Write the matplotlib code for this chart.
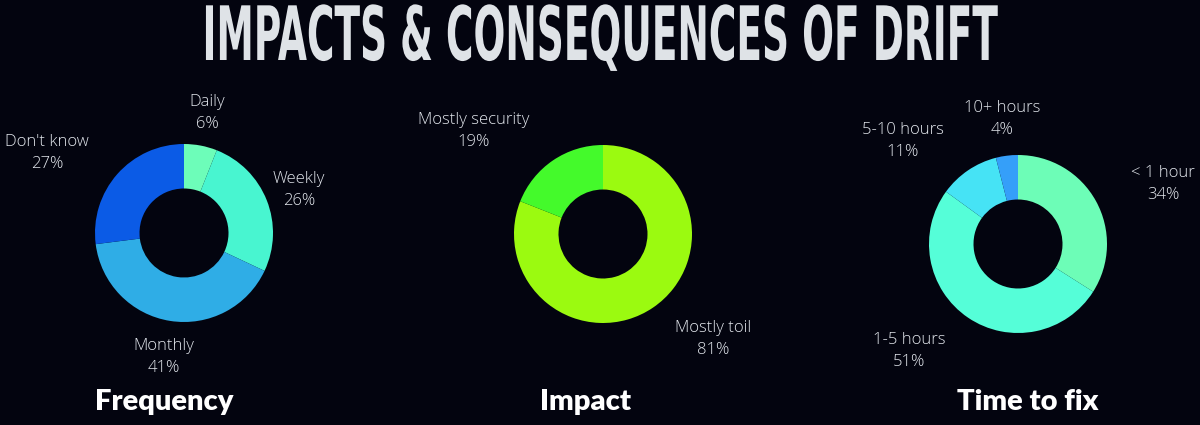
import matplotlib
matplotlib.use("Agg")
import matplotlib.pyplot as plt
from matplotlib.patheffects import AbstractPathEffect
from matplotlib.transforms import Affine2D

# data
freq_labels = ["Daily", "Weekly", "Monthly", "Don't know"]
freq_values = [6, 26, 41, 27]
freq_colors = ["#6dfdb9", "#48f5d0", "#2fade6", "#0b5be6"]

impact_labels = ["Mostly toil", "Mostly security"]
impact_values = [81, 19]
impact_colors = ["#9bfa10", "#44fa2b"]

fix_labels = ["< 1 hour", "1-5 hours", "5-10 hours", "10+ hours"]
fix_values = [34, 51, 11, 4]
fix_colors = ["#6dfdb7", "#55fed8", "#46e3f5", "#359ff9"]

titles = ["Frequency", "Impact", "Time to fix"]

W, H = 1200, 425
BG = "#03040f"
TXT = "#e2e6ec"


class Squeeze(AbstractPathEffect):
    # rescale the text glyphs around an anchor point (display coords)
    def __init__(self, sx, sy, cx, cy):
        super().__init__()
        self.sx, self.sy = sx, sy
        self.cx, self.cy = cx, cy

    def draw_path(self, renderer, gc, tpath, affine, rgbFace=None):
        t = affine + (Affine2D().translate(-self.cx, -self.cy)
                      .scale(self.sx, self.sy).translate(self.cx, self.cy))
        renderer.draw_path(gc, tpath, t, rgbFace)


fig = plt.figure(figsize=(12, 4.25), dpi=100, facecolor=BG)
ax = fig.add_axes([0, 0, 1, 1])
ax.set_facecolor(BG)


def donut(values, colors, cx, cy, r=89):
    ax.pie(values, colors=colors, startangle=90, counterclock=False,
           radius=r, center=(cx, H - cy), frame=True,
           wedgeprops=dict(width=r * 0.5, edgecolor="none", linewidth=0))


def lab(x, y, name, val):
    ax.text(x, H - y, f"{name}\n{val}%", ha="center", va="center",
            color=TXT, fontsize=12, family=["Open Sans", "DejaVu Sans"],
            fontweight="light", linespacing=1.45)


donut(freq_values, freq_colors, 184, 233)
donut(impact_values, impact_colors, 603, 234)
donut(fix_values, fix_colors, 1018, 244)

freq_pos = [(207, 113), (299, 190), (164, 357), (47, 153)]
for (x, y), n, v in zip(freq_pos, freq_labels, freq_values):
    lab(x, y, n, v)

impact_pos = [(713, 339), (474, 131)]
for (x, y), n, v in zip(impact_pos, impact_labels, impact_values):
    lab(x, y, n, v)

fix_pos = [(1163, 184), (909, 351), (903, 141), (1002, 119)]
for (x, y), n, v in zip(fix_pos, fix_labels, fix_values):
    lab(x, y, n, v)

for x, t in zip([164, 585, 1028], titles):
    ax.text(x, H - 402, t, ha="center", va="center", color="white",
            fontsize=21, fontweight="heavy", family=["Lato", "DejaVu Sans"])

ax.set_xlim(0, W)
ax.set_ylim(0, H)
ax.set_aspect("auto")
ax.axis("off")

base_y = H - 60
title = fig.text(0.5, base_y / H, "IMPACTS & CONSEQUENCES OF DRIFT",
                 ha="center", va="baseline", color="#dfe3e7", fontsize=40,
                 fontweight="bold",
                 family=["Liberation Sans Narrow", "DejaVu Sans"])
fig.canvas.draw()
bb = title.get_window_extent(fig.canvas.get_renderer())
title.set_path_effects([Squeeze(795 / bb.width, 54 / 40, W / 2, base_y)])

fig.savefig("out.png", dpi=100, facecolor=BG)
